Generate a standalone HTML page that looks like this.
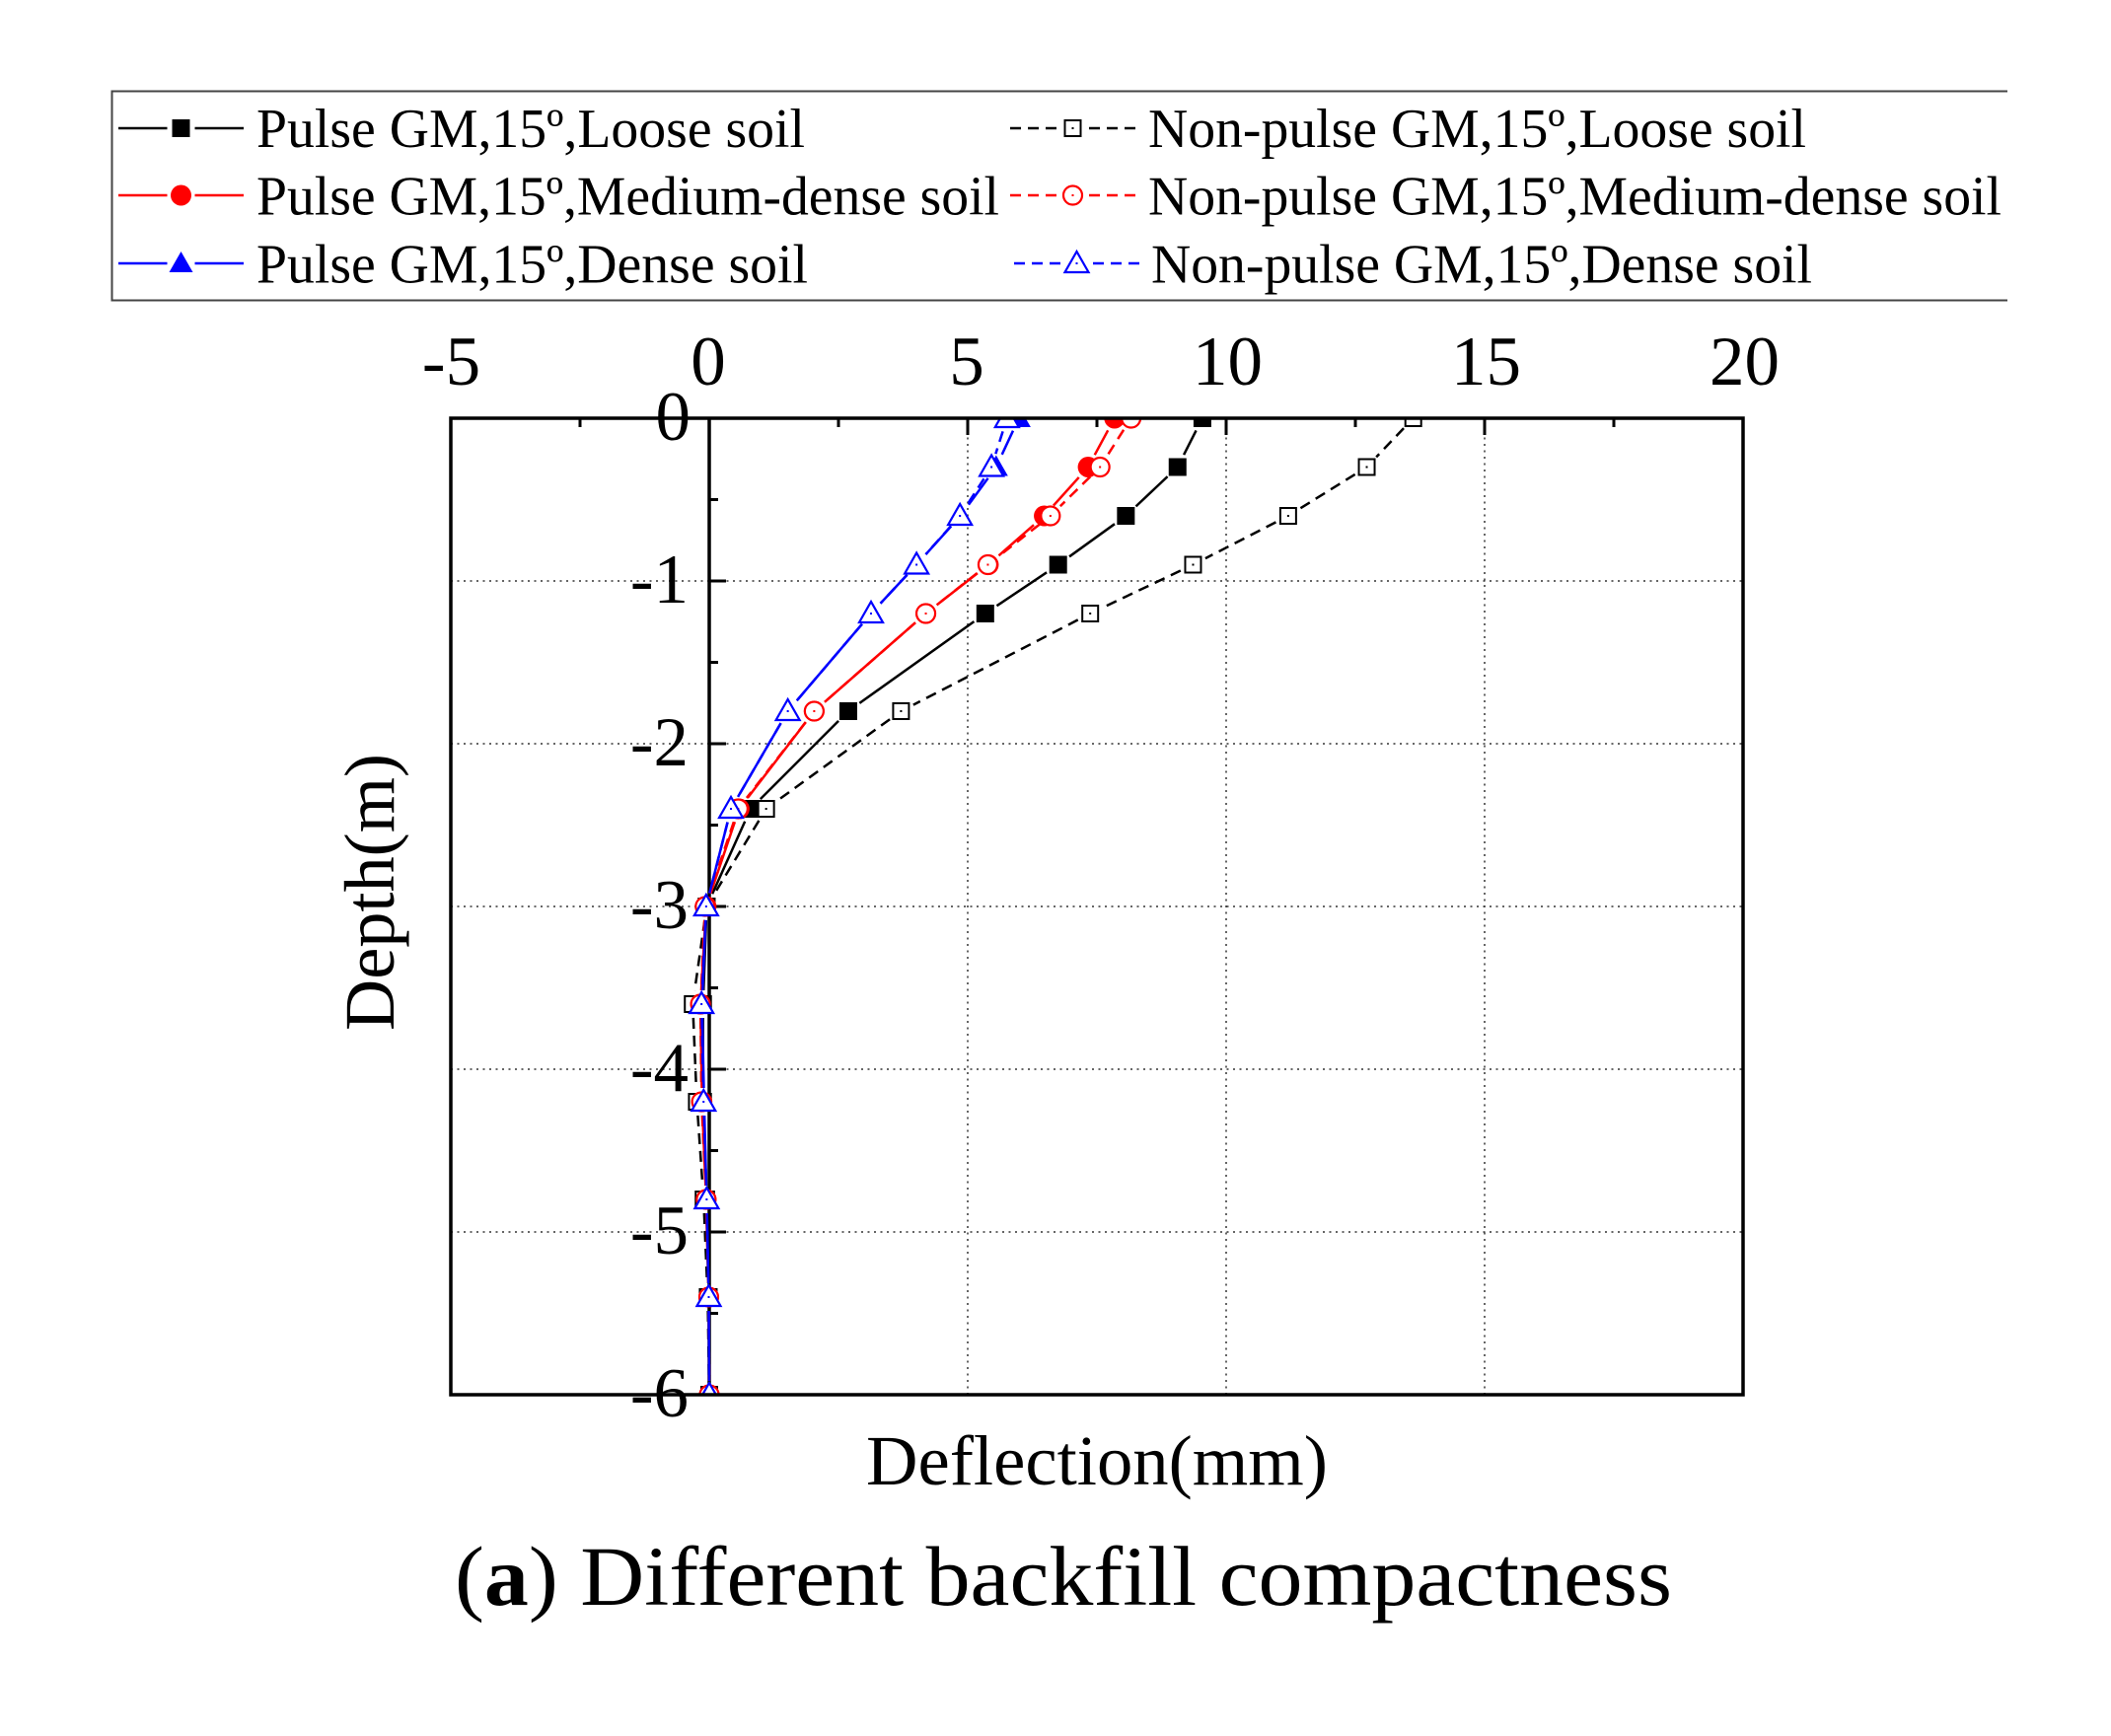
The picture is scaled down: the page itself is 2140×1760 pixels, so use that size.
<!DOCTYPE html>
<html lang="en">
<head>
<meta charset="utf-8">
<title>Different backfill compactness</title>
<style>
html,body{margin:0;padding:0;background:#fff}
svg{display:block}
text{font-family:"Liberation Serif",serif;fill:#000}
</style>
</head>
<body>
<svg id="chart" xmlns="http://www.w3.org/2000/svg" width="2140" height="1760" viewBox="0 0 2140 1760">
  <rect x="0" y="0" width="2140" height="1760" fill="#fff"/>
  <defs><clipPath id="plotClip"><rect x="457" y="424" width="1310" height="990"/></clipPath></defs>
  <g id="grid"></g>
  <g id="axes"></g>
  <g id="series" clip-path="url(#plotClip)"></g>
  <g id="frameLayer"></g>

  <g>
    <path d="M2035 92.500H113.500V304.500H2035" fill="none" stroke="#444" stroke-width="2"/>
    <g id="legendKeys"></g>
    <text x="260" y="149" font-size="56" textLength="556" lengthAdjust="spacingAndGlyphs">Pulse GM,15º,Loose soil</text>
    <text x="260" y="217.500" font-size="56" textLength="753" lengthAdjust="spacingAndGlyphs">Pulse GM,15º,Medium-dense soil</text>
    <text x="260" y="286.500" font-size="56" textLength="559" lengthAdjust="spacingAndGlyphs">Pulse GM,15º,Dense soil</text>
    <text x="1164" y="149" font-size="56" textLength="667" lengthAdjust="spacingAndGlyphs">Non-pulse GM,15º,Loose soil</text>
    <text x="1164" y="217.500" font-size="56" textLength="865" lengthAdjust="spacingAndGlyphs">Non-pulse GM,15º,Medium-dense soil</text>
    <text x="1167" y="286.500" font-size="56" textLength="670" lengthAdjust="spacingAndGlyphs">Non-pulse GM,15º,Dense soil</text>
  </g>

  <text x="878" y="1505" font-size="72" textLength="468" lengthAdjust="spacingAndGlyphs">Deflection(mm)</text>
  <text transform="translate(399 1045) rotate(-90)" font-size="72" textLength="281" lengthAdjust="spacingAndGlyphs">Depth(m)</text>
  <text x="461" y="1627" font-size="86" textLength="1234" lengthAdjust="spacingAndGlyphs">(<tspan font-weight="bold">a</tspan>) Different backfill compactness</text>
</svg>
<script>
const depths = [0, -0.3, -0.6, -0.9, -1.2, -1.8, -2.4, -3, -3.6, -4.2, -4.8, -5.4, -6];
const pulseLoose = [9.54, 9.06, 8.06, 6.75, 5.34, 2.69, 0.8, -0.05, -0.12, -0.12, -0.06, -0.01, 0];
const nonPulseLoose = [13.62, 12.72, 11.2, 9.36, 7.37, 3.71, 1.1, -0.05, -0.32, -0.24, -0.11, -0.03, 0];
const pulseMedium = [7.84, 7.33, 6.48, 5.4, 4.19, 2.03, 0.58, -0.06, -0.17, -0.14, -0.06, -0.01, 0];
const nonPulseMedium = [8.16, 7.56, 6.6, 5.39, 4.19, 2.03, 0.56, -0.08, -0.17, -0.15, -0.06, -0.01, 0];
const pulseDense = [5.99, 5.55, 4.86, 4.01, 3.13, 1.52, 0.42, -0.06, -0.14, -0.1, -0.05, -0.01, 0];
const nonPulseDense = [5.76, 5.46, 4.85, 4.01, 3.13, 1.52, 0.42, -0.06, -0.15, -0.11, -0.05, -0.01, 0];
const xTickLabels = [-5, 0, 5, 10, 15, 20];
const xMinorTicks = [-2.5, 2.5, 7.5, 12.5, 17.5];
const xGridValues = [5, 10, 15];
const yTickLabels = [0, -1, -2, -3, -4, -5, -6];
const yMinorTicks = [-0.5, -1.5, -2.5, -3.5, -4.5, -5.5];
const yGridValues = [-1, -2, -3, -4, -5];

const NS = 'http://www.w3.org/2000/svg';
const X0 = 719, XU = 52.4, Y0 = 424, YU = 165;
function xAxis(v) { return X0 + v * XU; }
function yAxis(v) { return Y0 - v * YU; }

function make(parent, tag, attrs) {
  const el = document.createElementNS(NS, tag);
  for (const k in attrs) el.setAttribute(k, attrs[k]);
  parent.appendChild(el);
  return el;
}

function drawMarker(parent, kind, cx, cy, color, open) {
  const fill = open ? '#fff' : color;
  const stroke = color;
  let m;
  if (kind === 'square') {
    const s = open ? 16 : 18;
    m = make(parent, 'rect', {x: cx - s / 2, y: cy - s / 2, width: s, height: s, fill: fill, stroke: open ? stroke : 'none', 'stroke-width': 2});
  } else if (kind === 'circle') {
    m = make(parent, 'circle', {cx: cx, cy: cy, r: open ? 9.500 : 10.500, fill: fill, stroke: open ? stroke : 'none', 'stroke-width': 2.200});
  } else {
    m = make(parent, 'polygon', {points: (cx - 12) + ',' + (cy + 9) + ' ' + (cx + 12) + ',' + (cy + 9) + ' ' + cx + ',' + (cy - 12), fill: fill, stroke: open ? stroke : 'none', 'stroke-width': 2.200});
  }
  
  
  if (open) {
    const dot = make(parent, 'rect', {x: cx - 1, y: cy - 1, width: 2, height: 2, fill: color});
    
    
  }
}

function drawSeries(values, kind, color, open, name) {
  const root = document.getElementById('series');
  const g = make(root, 'g', {});
  
  
  const gap = 14;
  for (let i = 0; i < values.length - 1; i++) {
    const x1 = xAxis(values[i]), y1 = yAxis(depths[i]);
    const x2 = xAxis(values[i + 1]), y2 = yAxis(depths[i + 1]);
    const len = Math.hypot(x2 - x1, y2 - y1);
    if (len <= gap * 2) continue;
    const ux = (x2 - x1) / len, uy = (y2 - y1) / len;
    const seg = make(g, 'line', {
      x1: x1 + ux * gap, y1: y1 + uy * gap,
      x2: x2 - ux * gap, y2: y2 - uy * gap,
      stroke: color, 'stroke-width': 2.500,
      'stroke-dasharray': open ? '11 7' : 'none'
    });
    
    
  }
  for (let i = 0; i < values.length; i++) {
    drawMarker(g, kind, xAxis(values[i]), yAxis(depths[i]), color, open);
  }
}

drawSeries(pulseLoose, 'square', '#000', false, 'series-pulse-loose');
drawSeries(nonPulseLoose, 'square', '#000', true, 'series-nonpulse-loose');
drawSeries(pulseMedium, 'circle', '#f00', false, 'series-pulse-medium');
drawSeries(nonPulseMedium, 'circle', '#f00', true, 'series-nonpulse-medium');
drawSeries(pulseDense, 'triangle', '#00f', false, 'series-pulse-dense');
drawSeries(nonPulseDense, 'triangle', '#00f', true, 'series-nonpulse-dense');

const grid = document.getElementById('grid');
const axes = document.getElementById('axes');
const frameLayer = document.getElementById('frameLayer');
const XL = xAxis(-5), XR = xAxis(20), YT = yAxis(0), YB = yAxis(-6);

yGridValues.forEach(function (v) {
  const l = make(grid, 'line', {x1: XL, x2: XR, y1: yAxis(v), y2: yAxis(v), stroke: '#333', 'stroke-width': 1.500, 'stroke-dasharray': '2 4.500'});
  
  
});
xGridValues.forEach(function (v) {
  const l = make(grid, 'line', {x1: xAxis(v), x2: xAxis(v), y1: YT, y2: YB, stroke: '#333', 'stroke-width': 1.500, 'stroke-dasharray': '2 4.500'});
  
  
});

const frame = make(frameLayer, 'rect', {x: XL, y: YT, width: XR - XL, height: YB - YT, fill: 'none', stroke: '#000', 'stroke-width': 3.500});


const yAxisLine = make(axes, 'line', {x1: xAxis(0), x2: xAxis(0), y1: YT, y2: YB, stroke: '#000', 'stroke-width': 3.500});



xTickLabels.forEach(function (v) {
  if (v !== -5 && v !== 20 && v !== 0) {
    const t = make(axes, 'line', {x1: xAxis(v), x2: xAxis(v), y1: YT, y2: YT + 17, stroke: '#000', 'stroke-width': 3});
    
    
  }
  const labelShift = v >= 10 ? 1.500 : (v < 0 ? 0.500 : -1);
  const lab = make(axes, 'text', {x: xAxis(v) + labelShift, y: 390, 'font-size': 71, 'text-anchor': 'middle'});
  lab.textContent = String(v);
  
  
});
xMinorTicks.forEach(function (v) {
  const t = make(axes, 'line', {x1: xAxis(v), x2: xAxis(v), y1: YT, y2: YT + 9, stroke: '#000', 'stroke-width': 3});
  
  
});
yTickLabels.forEach(function (v) {
  const t = make(axes, 'line', {x1: xAxis(0), x2: xAxis(0) + 17, y1: yAxis(v), y2: yAxis(v), stroke: '#000', 'stroke-width': 3});
  
  
  const lab = make(axes, 'text', {x: v === 0 ? 700 : 698, y: yAxis(v) + 22, 'font-size': 71, 'text-anchor': 'end'});
  lab.textContent = String(v);
  
  
});
yMinorTicks.forEach(function (v) {
  const t = make(axes, 'line', {x1: xAxis(0), x2: xAxis(0) + 9, y1: yAxis(v), y2: yAxis(v), stroke: '#000', 'stroke-width': 3});
  
  
});

function legendKey(x1, x2, y, kind, color, open) {
  const keys = document.getElementById('legendKeys');
  const cx = (x1 + x2) / 2;
  const left = make(keys, 'line', {x1: x1, x2: cx - 14, y1: y, y2: y, stroke: color, 'stroke-width': 2.500, 'stroke-dasharray': open ? '11 7' : 'none'});
  
  
  const right = make(keys, 'line', {x1: x2, x2: cx + 14, y1: y, y2: y, stroke: color, 'stroke-width': 2.500, 'stroke-dasharray': open ? '11 7' : 'none'});
  
  
  drawMarker(keys, kind, cx, y, color, open);
}
legendKey(120, 247, 130, 'square', '#000', false);
legendKey(120, 247, 198, 'circle', '#f00', false);
legendKey(120, 247, 267, 'triangle', '#00f', false);
legendKey(1024, 1151, 130, 'square', '#000', true);
legendKey(1024, 1151, 198, 'circle', '#f00', true);
legendKey(1028, 1155, 267, 'triangle', '#00f', true);
</script>
</body>
</html>
